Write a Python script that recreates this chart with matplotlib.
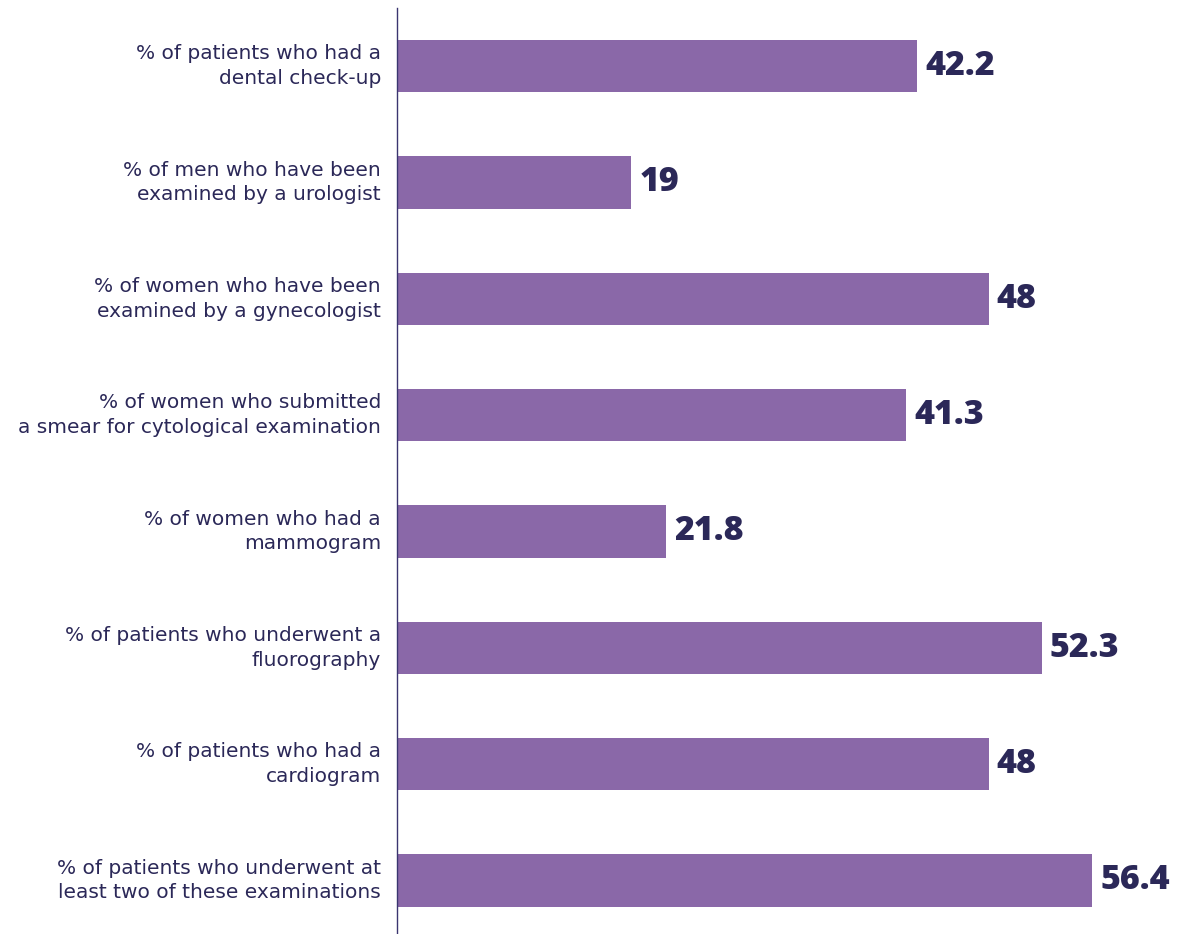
import matplotlib.pyplot as plt
import numpy as np

# Categories (top to bottom) and their percentages
categories = [
    '% of patients who had a\ndental check-up',
    '% of men who have been\nexamined by a urologist',
    '% of women who have been\nexamined by a gynecologist',
    '% of women who submitted\na smear for cytological examination',
    '% of women who had a\nmammogram',
    '% of patients who underwent a\nfluorography',
    '% of patients who had a\ncardiogram',
    '% of patients who underwent at\nleast two of these examinations',
]
values = [42.2, 19, 48, 41.3, 21.8, 52.3, 48, 56.4]
value_labels = ['42.2', '19', '48', '41.3', '21.8', '52.3', '48', '56.4']

bar_color = '#8a68a8'
text_color = '#2b2858'

plt.rcParams['font.family'] = ['DejaVu Sans']

fig = plt.figure(figsize=(11.91, 9.34), dpi=100)
ax = fig.add_axes([397 / 1191, 0, 794 / 1191, 926 / 934])

y = np.arange(len(categories))
bars = ax.barh(y, values, height=0.45, color=bar_color)

# Value labels just past the end of each bar
for bar, label in zip(bars, value_labels):
    ax.text(bar.get_width() + 0.65, bar.get_y() + bar.get_height() / 2, label,
            va='center', ha='left', fontsize=24.5, fontweight='heavy',
            family='Open Sans', color=text_color)

ax.set_xlim(0, 64.4)
ax.set_ylim(7.46, -0.5)
ax.set_yticks(y)
ax.set_yticklabels(categories, fontsize=14.5, color=text_color, linespacing=1.36,
                   va='center')
ax.tick_params(axis='y', length=0, pad=11.5)
ax.set_xticks([])

for side in ['top', 'right', 'bottom']:
    ax.spines[side].set_visible(False)
ax.spines['left'].set_color('#3a3570')
ax.spines['left'].set_linewidth(1)

fig.savefig('out.png', dpi=100)
